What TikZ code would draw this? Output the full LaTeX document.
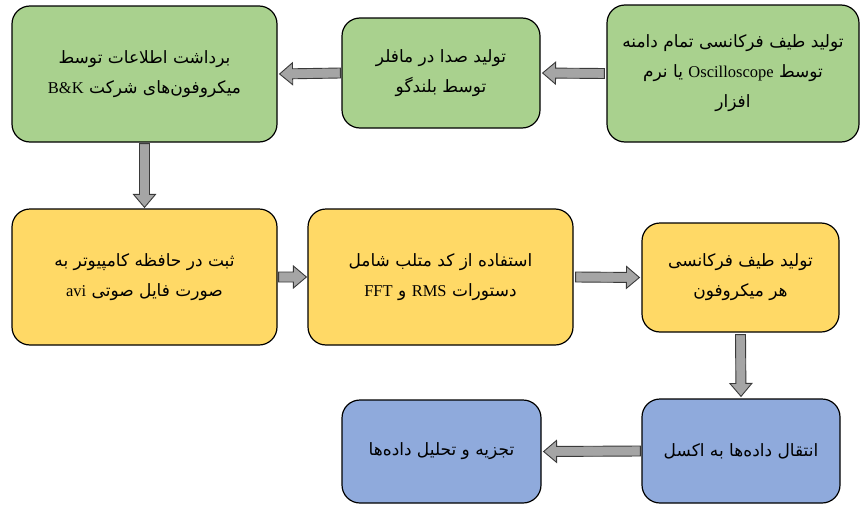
\documentclass[tikz,border=0pt]{standalone}
\usepackage{fontspec}
\usetikzlibrary{calc}
\TeXXeTstate=1
\newfontfamily\arabicfont[Script=Arabic]{DejaVu Sans}
\newfontfamily\latinfont{Liberation Serif}
\definecolor{boxgreen}{HTML}{A9D18E}
\definecolor{boxyellow}{HTML}{FFD966}
\definecolor{boxblue}{HTML}{8FAADC}
\definecolor{arrgray}{HTML}{A5A5A5}
\definecolor{arrline}{HTML}{3A3A3A}
\tikzset{
  flowbox/.style={draw=black, line width=1.2pt, rounded corners=18pt, inner sep=0pt,
    align=center, font=\arabicfont\fontsize{17}{30}\selectfont},
  greenbox/.style={flowbox, fill=boxgreen},
  yellowbox/.style={flowbox, fill=boxyellow},
  bluebox/.style={flowbox, fill=boxblue},
  blkarr/.style={fill=arrgray, draw=arrline, line width=0.9pt, line join=miter}
}
\newcommand\Lt[1]{\beginL{\latinfont\fontsize{16.5}{30}\selectfont #1}\endL}
\newcommand\blkarrow[2]{%
  \path (#1) coordinate (ba-s) (#2) coordinate (ba-t);
  \coordinate (ba-b) at ($(ba-t)!13pt!(ba-s)$);
  \filldraw[blkarr] ($(ba-s)!5pt!90:(ba-t)$) -- ($(ba-b)!5pt!-90:(ba-s)$)
    -- ($(ba-b)!11pt!-90:(ba-s)$) -- (ba-t) -- ($(ba-b)!11pt!90:(ba-s)$)
    -- ($(ba-b)!5pt!90:(ba-s)$) -- ($(ba-s)!5pt!-90:(ba-t)$) -- cycle;
}
\begin{document}
\begin{tikzpicture}[x=1pt,y=-1pt]
\useasboundingbox (0,0) rectangle (862,506);
\node[greenbox, minimum width=265pt, minimum height=136pt] (b1) at (144.5,74)
  {\beginR برداشت اطلاعات توسط\endR\\\beginR میکروفون‌های شرکت \Lt{B\&K}\endR};
\node[greenbox, minimum width=198pt, minimum height=110pt] (b2) at (441,73)
  {\beginR تولید صدا در مافلر\endR\\\beginR توسط بلندگو\endR};
\node[greenbox, minimum width=252pt, minimum height=137pt] (b3) at (733,73.5)
  {\beginR تولید طیف فرکانسی تمام دامنه\endR\\\beginR توسط \Lt{Oscilloscope} یا نرم\endR\\\beginR افزار\endR};
\node[yellowbox, minimum width=265pt, minimum height=136pt] (b4) at (144.5,277)
  {\beginR ثبت در حافظه کامپیوتر به\endR\\\beginR صورت فایل صوتی \Lt{avi}\endR};
\node[yellowbox, minimum width=265pt, minimum height=136pt] (b5) at (440.5,277)
  {\beginR استفاده از کد متلب شامل\endR\\\beginR دستورات \Lt{RMS} و \Lt{FFT}\endR};
\node[yellowbox, minimum width=197pt, minimum height=109pt] (b6) at (740.5,277.5)
  {\beginR تولید طیف فرکانسی\endR\\\beginR هر میکروفون\endR};
\node[bluebox, minimum width=198pt, minimum height=104pt] (b7) at (741,451)
  {\beginR انتقال داده‌ها به اکسل\endR};
\node[bluebox, minimum width=199pt, minimum height=103pt] (b8) at (441.5,451.5)
  {\beginR تجزیه و تحلیل داده‌ها\endR};
\blkarrow{$(b3.west)+(-2,0)$}{$(b2.east)+(2,0)$}
\blkarrow{$(b2.west)+(-1,0)$}{$(b1.east)+(2,0)$}
\blkarrow{$(b1.south)+(0,1)$}{$(b4.north)+(0,-1)$}
\blkarrow{$(b4.east)+(1,0)$}{$(b5.west)+(-1,0)$}
\blkarrow{$(b5.east)+(2,0)$}{$(b6.west)+(-2,0)$}
\blkarrow{$(b6.south)+(0,2)$}{$(b7.north)+(0,-2)$}
\blkarrow{$(b7.west)+(-1,0)$}{$(b8.east)+(2,0)$}
\end{tikzpicture}
\end{document}
